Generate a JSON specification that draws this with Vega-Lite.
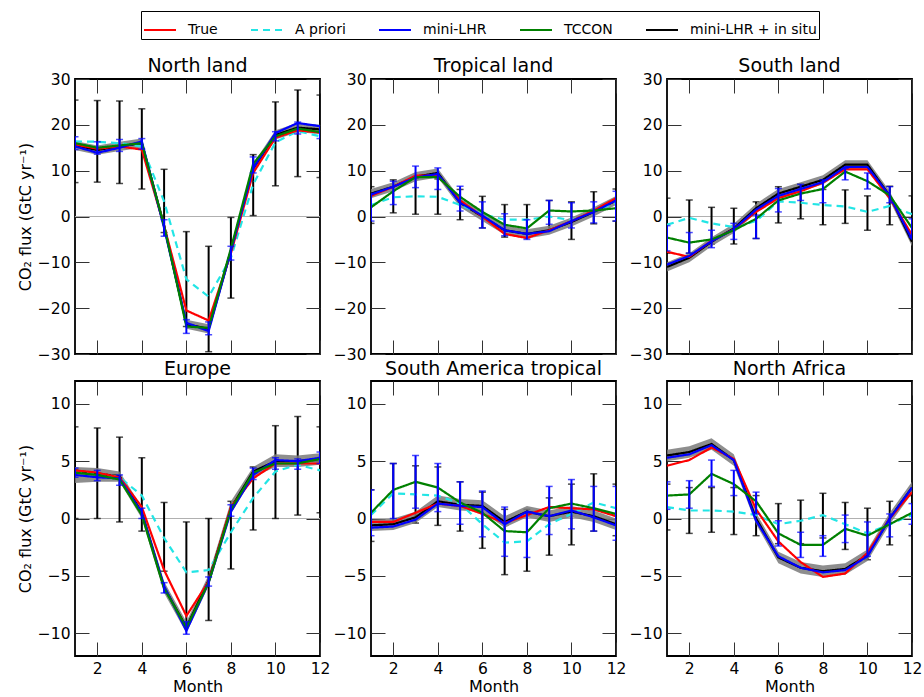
{
"$schema":"https://vega.github.io/schema/vega-lite/v6.json",
"background":"white",
"padding":{"left":16,"top":10,"right":5,"bottom":0},
"data":{"values":[
{"r":"NL","m":1,"T":15.7,"AP":16.4,"L":15.3,"TC":16.0,"LI":15.5,"blo":14.5,"bhi":16.5,"alo":7.4,"ahi":25.4,"tlo":14.6,"thi":17.4},
{"r":"NL","m":2,"T":14.8,"AP":16.3,"L":13.9,"TC":15.0,"LI":14.5,"blo":13.5,"bhi":15.5,"alo":7.5,"ahi":25.3,"tlo":13.6,"thi":16.3},
{"r":"NL","m":3,"T":15.3,"AP":16.0,"L":15.0,"TC":15.5,"LI":15.3,"blo":14.3,"bhi":16.3,"alo":7.2,"ahi":25.2,"tlo":14.2,"thi":16.8},
{"r":"NL","m":4,"T":14.6,"AP":15.3,"L":16.4,"TC":16.0,"LI":16.0,"blo":15.0,"bhi":17.0,"alo":6.0,"ahi":23.5,"tlo":14.7,"thi":17.0},
{"r":"NL","m":5,"T":-2.0,"AP":3.3,"L":-2.5,"TC":-2.0,"LI":-2.0,"blo":-3.0,"bhi":-1.0,"alo":-3.5,"ahi":10.3,"tlo":-4.3,"thi":-0.7},
{"r":"NL","m":6,"T":-20.5,"AP":-13.7,"L":-23.2,"TC":-24.0,"LI":-23.5,"blo":-24.5,"bhi":-22.5,"alo":-24.0,"ahi":-3.3,"tlo":-25.5,"thi":-22.5},
{"r":"NL","m":7,"T":-22.7,"AP":-17.5,"L":-25.0,"TC":-24.3,"LI":-24.5,"blo":-25.5,"bhi":-23.5,"alo":-29.5,"ahi":-6.5,"tlo":-25.8,"thi":-23.0},
{"r":"NL","m":8,"T":-8.0,"AP":-9.0,"L":-7.5,"TC":-7.0,"LI":-7.5,"blo":-8.5,"bhi":-6.5,"alo":-17.8,"ahi":-0.2,"tlo":-9.5,"thi":-6.5},
{"r":"NL","m":9,"T":9.5,"AP":7.0,"L":10.5,"TC":11.5,"LI":10.5,"blo":9.5,"bhi":11.5,"alo":0.2,"ahi":13.5,"tlo":9.5,"thi":13.0},
{"r":"NL","m":10,"T":17.2,"AP":16.2,"L":18.2,"TC":17.5,"LI":17.8,"blo":16.8,"bhi":18.8,"alo":6.7,"ahi":25.0,"tlo":16.5,"thi":18.5},
{"r":"NL","m":11,"T":18.8,"AP":18.6,"L":20.4,"TC":19.2,"LI":19.4,"blo":18.4,"bhi":20.4,"alo":8.7,"ahi":27.6,"tlo":18.0,"thi":20.6},
{"r":"NL","m":12,"T":18.3,"AP":17.5,"L":19.7,"TC":18.4,"LI":19.0,"blo":18.0,"bhi":20.0,"alo":8.5,"ahi":26.5,"tlo":17.0,"thi":19.8},
{"r":"TL","m":1,"T":4.5,"AP":2.5,"L":4.8,"TC":2.0,"LI":5.0,"blo":4.0,"bhi":6.0,"alo":-1.5,"ahi":6.5,"tlo":-1.0,"thi":5.0},
{"r":"TL","m":2,"T":6.5,"AP":4.2,"L":6.5,"TC":5.5,"LI":6.5,"blo":5.5,"bhi":7.5,"alo":0.8,"ahi":8.0,"tlo":2.6,"thi":7.7},
{"r":"TL","m":3,"T":8.9,"AP":4.4,"L":8.5,"TC":8.6,"LI":8.7,"blo":7.7,"bhi":9.7,"alo":0.5,"ahi":8.3,"tlo":6.3,"thi":11.0},
{"r":"TL","m":4,"T":9.0,"AP":4.3,"L":9.3,"TC":8.6,"LI":9.5,"blo":8.5,"bhi":10.5,"alo":0.5,"ahi":8.2,"tlo":5.9,"thi":10.6},
{"r":"TL","m":5,"T":3.5,"AP":2.5,"L":3.0,"TC":4.3,"LI":3.0,"blo":2.0,"bhi":4.0,"alo":-0.7,"ahi":5.9,"tlo":1.2,"thi":6.6},
{"r":"TL","m":6,"T":0.0,"AP":0.5,"L":0.2,"TC":1.0,"LI":0.0,"blo":-1.0,"bhi":1.0,"alo":-2.5,"ahi":4.4,"tlo":-2.5,"thi":3.2},
{"r":"TL","m":7,"T":-3.8,"AP":-0.7,"L":-3.0,"TC":-1.8,"LI":-3.0,"blo":-4.0,"bhi":-2.0,"alo":-4.5,"ahi":2.6,"tlo":-4.2,"thi":0.6},
{"r":"TL","m":8,"T":-4.7,"AP":-0.7,"L":-3.8,"TC":-2.6,"LI":-3.8,"blo":-4.8,"bhi":-2.8,"alo":-4.6,"ahi":2.6,"tlo":-5.0,"thi":-0.7},
{"r":"TL","m":9,"T":-3.0,"AP":0.0,"L":-3.2,"TC":1.3,"LI":-3.0,"blo":-4.0,"bhi":-2.0,"alo":-3.0,"ahi":3.5,"tlo":-1.7,"thi":3.5},
{"r":"TL","m":10,"T":-1.0,"AP":-0.8,"L":-1.0,"TC":1.1,"LI":-1.2,"blo":-2.2,"bhi":-0.2,"alo":-5.0,"ahi":3.2,"tlo":-2.5,"thi":3.0},
{"r":"TL","m":11,"T":1.3,"AP":1.2,"L":1.0,"TC":1.3,"LI":1.0,"blo":0.0,"bhi":2.0,"alo":-1.6,"ahi":5.4,"tlo":-1.4,"thi":3.2},
{"r":"TL","m":12,"T":4.0,"AP":3.0,"L":3.5,"TC":1.8,"LI":3.5,"blo":2.5,"bhi":4.5,"alo":-1.0,"ahi":6.0,"tlo":-1.0,"thi":5.5},
{"r":"SL","m":1,"T":-7.7,"AP":-1.8,"L":-10.5,"TC":-4.6,"LI":-11.0,"blo":-12.0,"bhi":-10.0,"alo":-8.0,"ahi":4.0,"tlo":-7.5,"thi":-2.0},
{"r":"SL","m":2,"T":-8.8,"AP":-0.3,"L":-8.6,"TC":-5.7,"LI":-9.0,"blo":-10.0,"bhi":-8.0,"alo":-8.0,"ahi":3.6,"tlo":-8.0,"thi":-3.5},
{"r":"SL","m":3,"T":-5.3,"AP":-1.5,"L":-5.4,"TC":-5.0,"LI":-5.5,"blo":-6.5,"bhi":-4.5,"alo":-6.0,"ahi":2.0,"tlo":-6.8,"thi":-3.0},
{"r":"SL","m":4,"T":-2.8,"AP":-2.3,"L":-2.8,"TC":-3.0,"LI":-2.6,"blo":-3.6,"bhi":-1.6,"alo":-6.0,"ahi":1.8,"tlo":-5.0,"thi":-1.5},
{"r":"SL","m":5,"T":1.0,"AP":-1.0,"L":1.5,"TC":-0.5,"LI":1.8,"blo":0.8,"bhi":2.8,"alo":-4.8,"ahi":3.2,"tlo":-4.8,"thi":0.3},
{"r":"SL","m":6,"T":4.0,"AP":3.3,"L":4.5,"TC":3.5,"LI":5.0,"blo":4.0,"bhi":6.0,"alo":-1.4,"ahi":6.5,"tlo":1.0,"thi":6.1},
{"r":"SL","m":7,"T":5.5,"AP":3.0,"L":6.0,"TC":5.0,"LI":6.5,"blo":5.5,"bhi":7.5,"alo":-0.5,"ahi":7.1,"tlo":3.5,"thi":7.0},
{"r":"SL","m":8,"T":7.4,"AP":2.5,"L":7.5,"TC":6.0,"LI":8.0,"blo":7.0,"bhi":9.0,"alo":-1.8,"ahi":5.9,"tlo":3.0,"thi":8.0},
{"r":"SL","m":9,"T":10.3,"AP":2.2,"L":10.8,"TC":9.8,"LI":11.3,"blo":10.3,"bhi":12.3,"alo":-1.5,"ahi":5.8,"tlo":8.0,"thi":10.5},
{"r":"SL","m":10,"T":10.3,"AP":1.0,"L":10.8,"TC":7.7,"LI":11.3,"blo":10.3,"bhi":12.3,"alo":-3.0,"ahi":4.5,"tlo":6.0,"thi":9.5},
{"r":"SL","m":11,"T":4.0,"AP":2.3,"L":4.5,"TC":4.6,"LI":4.5,"blo":3.5,"bhi":5.5,"alo":-1.8,"ahi":6.6,"tlo":3.0,"thi":6.5},
{"r":"SL","m":12,"T":-4.0,"AP":0.5,"L":-5.0,"TC":-2.5,"LI":-5.5,"blo":-6.5,"bhi":-4.5,"alo":-3.5,"ahi":4.5,"tlo":-4.5,"thi":-0.5},
{"r":"EU","m":1,"T":4.2,"AP":4.0,"L":3.8,"TC":4.0,"LI":4.2,"blo":3.1,"bhi":4.5,"alo":0.0,"ahi":8.0,"tlo":3.6,"thi":4.4},
{"r":"EU","m":2,"T":4.0,"AP":4.0,"L":3.6,"TC":3.8,"LI":3.9,"blo":3.2,"bhi":4.4,"alo":0.0,"ahi":7.9,"tlo":3.3,"thi":4.2},
{"r":"EU","m":3,"T":3.6,"AP":3.6,"L":3.5,"TC":3.4,"LI":3.7,"blo":3.2,"bhi":4.1,"alo":-0.3,"ahi":7.1,"tlo":2.9,"thi":3.8},
{"r":"EU","m":4,"T":1.0,"AP":2.0,"L":0.5,"TC":0.3,"LI":0.5,"blo":0.0,"bhi":1.0,"alo":-1.1,"ahi":5.3,"tlo":0.0,"thi":0.9},
{"r":"EU","m":5,"T":-4.5,"AP":-1.7,"L":-5.9,"TC":-6.1,"LI":-6.0,"blo":-6.5,"bhi":-5.5,"alo":-4.6,"ahi":1.4,"tlo":-6.5,"thi":-5.6},
{"r":"EU","m":6,"T":-8.5,"AP":-4.7,"L":-9.8,"TC":-9.5,"LI":-9.5,"blo":-10.0,"bhi":-9.0,"alo":-9.1,"ahi":-0.3,"tlo":-10.1,"thi":-9.0},
{"r":"EU","m":7,"T":-5.5,"AP":-4.5,"L":-5.6,"TC":-5.6,"LI":-5.4,"blo":-5.9,"bhi":-4.9,"alo":-8.9,"ahi":0.0,"tlo":-5.9,"thi":-5.1},
{"r":"EU","m":8,"T":1.0,"AP":-1.2,"L":0.6,"TC":0.8,"LI":0.9,"blo":0.4,"bhi":1.5,"alo":-4.4,"ahi":1.5,"tlo":0.2,"thi":1.2},
{"r":"EU","m":9,"T":3.5,"AP":1.8,"L":3.8,"TC":4.0,"LI":4.1,"blo":3.6,"bhi":4.5,"alo":-1.0,"ahi":4.5,"tlo":3.4,"thi":4.4},
{"r":"EU","m":10,"T":4.8,"AP":4.1,"L":5.1,"TC":4.8,"LI":5.0,"blo":4.5,"bhi":5.6,"alo":0.0,"ahi":8.1,"tlo":4.3,"thi":5.3},
{"r":"EU","m":11,"T":4.8,"AP":4.7,"L":5.0,"TC":4.8,"LI":5.0,"blo":4.5,"bhi":5.5,"alo":0.3,"ahi":8.9,"tlo":4.3,"thi":5.2},
{"r":"EU","m":12,"T":4.8,"AP":4.2,"L":5.3,"TC":5.2,"LI":5.2,"blo":4.7,"bhi":5.7,"alo":0.5,"ahi":8.0,"tlo":4.8,"thi":5.8},
{"r":"SA","m":1,"T":-0.3,"AP":0.3,"L":-0.8,"TC":0.5,"LI":-0.6,"blo":-1.1,"bhi":-0.1,"alo":-2.0,"ahi":2.5,"tlo":-1.5,"thi":2.5},
{"r":"SA","m":2,"T":-0.3,"AP":2.2,"L":-0.7,"TC":2.5,"LI":-0.5,"blo":-1.0,"bhi":0.0,"alo":-0.4,"ahi":4.8,"tlo":0.0,"thi":4.8},
{"r":"SA","m":3,"T":0.5,"AP":2.1,"L":-0.1,"TC":3.2,"LI":0.1,"blo":-0.4,"bhi":0.6,"alo":-0.4,"ahi":4.6,"tlo":0.9,"thi":5.5},
{"r":"SA","m":4,"T":1.3,"AP":2.0,"L":1.3,"TC":2.7,"LI":1.5,"blo":1.0,"bhi":2.0,"alo":-0.6,"ahi":4.5,"tlo":0.6,"thi":4.8},
{"r":"SA","m":5,"T":1.1,"AP":1.3,"L":1.1,"TC":1.4,"LI":1.2,"blo":0.7,"bhi":1.7,"alo":-1.1,"ahi":3.2,"tlo":-0.5,"thi":3.2},
{"r":"SA","m":6,"T":0.4,"AP":-0.5,"L":1.0,"TC":0.5,"LI":1.1,"blo":0.6,"bhi":1.6,"alo":-2.6,"ahi":2.3,"tlo":-1.6,"thi":2.4},
{"r":"SA","m":7,"T":-0.4,"AP":-2.1,"L":-0.5,"TC":-1.1,"LI":-0.3,"blo":-0.8,"bhi":0.2,"alo":-4.9,"ahi":0.8,"tlo":-3.3,"thi":1.0},
{"r":"SA","m":8,"T":0.3,"AP":-2.0,"L":0.6,"TC":-1.2,"LI":0.6,"blo":0.1,"bhi":1.1,"alo":-4.6,"ahi":0.8,"tlo":-3.4,"thi":0.5},
{"r":"SA","m":9,"T":1.0,"AP":-0.5,"L":0.2,"TC":0.9,"LI":0.2,"blo":-0.3,"bhi":0.7,"alo":-3.2,"ahi":1.8,"tlo":-1.4,"thi":2.8},
{"r":"SA","m":10,"T":0.9,"AP":0.4,"L":0.7,"TC":1.3,"LI":0.6,"blo":0.1,"bhi":1.1,"alo":-2.3,"ahi":3.0,"tlo":-0.9,"thi":3.4},
{"r":"SA","m":11,"T":0.8,"AP":1.4,"L":0.1,"TC":0.9,"LI":0.2,"blo":-0.3,"bhi":0.7,"alo":-1.1,"ahi":3.9,"tlo":-1.1,"thi":2.8},
{"r":"SA","m":12,"T":0.2,"AP":0.9,"L":-0.6,"TC":0.4,"LI":-0.5,"blo":-1.0,"bhi":0.0,"alo":-1.5,"ahi":3.0,"tlo":-1.9,"thi":2.8},
{"r":"NA","m":1,"T":4.6,"AP":1.0,"L":5.3,"TC":2.0,"LI":5.5,"blo":5.0,"bhi":6.0,"alo":-1.0,"ahi":3.0,"tlo":0.8,"thi":3.2},
{"r":"NA","m":2,"T":5.1,"AP":0.7,"L":5.6,"TC":2.1,"LI":5.8,"blo":5.3,"bhi":6.3,"alo":-1.3,"ahi":2.7,"tlo":0.9,"thi":3.3},
{"r":"NA","m":3,"T":6.2,"AP":0.7,"L":6.4,"TC":3.9,"LI":6.5,"blo":6.0,"bhi":7.0,"alo":-1.2,"ahi":2.7,"tlo":2.8,"thi":5.1},
{"r":"NA","m":4,"T":5.2,"AP":0.6,"L":5.1,"TC":3.0,"LI":5.1,"blo":4.6,"bhi":5.6,"alo":-1.4,"ahi":2.7,"tlo":2.0,"thi":4.2},
{"r":"NA","m":5,"T":0.8,"AP":0.3,"L":-0.2,"TC":1.5,"LI":0.0,"blo":-0.5,"bhi":0.5,"alo":-1.5,"ahi":2.0,"tlo":0.4,"thi":2.3},
{"r":"NA","m":6,"T":-2.0,"AP":-0.5,"L":-3.3,"TC":-1.3,"LI":-3.4,"blo":-3.9,"bhi":-2.9,"alo":-2.2,"ahi":1.3,"tlo":-2.4,"thi":-0.2},
{"r":"NA","m":7,"T":-3.8,"AP":-0.2,"L":-4.3,"TC":-2.3,"LI":-4.3,"blo":-4.8,"bhi":-3.8,"alo":-2.2,"ahi":1.6,"tlo":-3.4,"thi":-1.2},
{"r":"NA","m":8,"T":-5.1,"AP":0.3,"L":-4.7,"TC":-2.3,"LI":-4.6,"blo":-5.1,"bhi":-4.1,"alo":-1.7,"ahi":2.2,"tlo":-3.3,"thi":-1.5},
{"r":"NA","m":9,"T":-4.8,"AP":-0.5,"L":-4.5,"TC":-0.9,"LI":-4.4,"blo":-4.9,"bhi":-3.9,"alo":-2.7,"ahi":1.4,"tlo":-2.1,"thi":0.3},
{"r":"NA","m":10,"T":-3.0,"AP":-1.3,"L":-3.3,"TC":-1.5,"LI":-3.2,"blo":-3.7,"bhi":-2.7,"alo":-3.6,"ahi":0.9,"tlo":-3.3,"thi":-0.3},
{"r":"NA","m":11,"T":0.0,"AP":-0.5,"L":0.0,"TC":-0.5,"LI":0.0,"blo":-0.5,"bhi":0.5,"alo":-2.3,"ahi":1.5,"tlo":-1.6,"thi":0.4},
{"r":"NA","m":12,"T":2.3,"AP":0.3,"L":2.7,"TC":0.5,"LI":2.7,"blo":2.2,"bhi":3.2,"alo":-1.5,"ahi":2.0,"tlo":-0.5,"thi":1.3}
]},
"config":{
 "font":"DejaVu Sans",
 "view":{"stroke":"black","strokeWidth":1.8},
 "axis":{"labelFontSize":15.5,"titleFontSize":16,"titleFontWeight":"normal","labelColor":"black","titleColor":"black","tickColor":"#333333","tickWidth":1,"domain":false,"grid":false},
 "title":{"fontSize":19,"fontWeight":"normal","offset":-4,"color":"black"},
 "legend":{"orient":"none","legendX":66,"legendY":-68,"direction":"horizontal","columns":5,"symbolType":"stroke","symbolSize":1024,"symbolStrokeWidth":2,"labelFontSize":14,"labelColor":"black","labelOffset":11,"columnPadding":29,"padding":2,"strokeColor":"black","fillColor":"white","cornerRadius":0}
},
"columns":3,
"spacing":{"row":27,"column":51},
"bounds":"flush",
"concat":[
{"title":"North land","width":245,"height":275,
 "transform":[{"filter":"datum.r == 'NL'"}],
 "resolve":{"axis":{"x":"independent","y":"independent"}},
 "layer":[
  {"data":{"values":[{"z":0}]},"mark":{"type":"rule","color":"#b0b0b0","strokeWidth":1},
   "encoding":{"x":{"datum":1,"type":"quantitative","axis":{"orient":"top","values":[2,4,6,8,10,12],"labels":false,"tickSize":-14,"title":null}},"x2":{"datum":12},
    "y":{"datum":0,"type":"quantitative","axis":{"orient":"right","values":[-30,-20,-10,0,10,20,30],"labels":false,"tickSize":-14,"title":null}}}},
  {"mark":{"type":"rule","color":"black","strokeWidth":2,"clip":true},"encoding":{"x":{"field":"m","type":"quantitative","axis":null},"y":{"field":"alo","type":"quantitative","axis":null},"y2":{"field":"ahi"}}},
  {"mark":{"type":"tick","orient":"horizontal","color":"black","size":7,"thickness":1.5,"clip":true},"encoding":{"x":{"field":"m","type":"quantitative","axis":null},"y":{"field":"alo","type":"quantitative","axis":null}}},
  {"mark":{"type":"tick","orient":"horizontal","color":"black","size":7,"thickness":1.5,"clip":true},"encoding":{"x":{"field":"m","type":"quantitative","axis":null},"y":{"field":"ahi","type":"quantitative","axis":null}}},
  {"mark":{"type":"area","color":"#7a7a7a","opacity":0.85,"clip":true},
   "encoding":{"x":{"field":"m","type":"quantitative","scale":{"domain":[1,12],"nice":false,"zero":false},"axis":{"orient":"bottom","values":[2,4,6,8,10,12],"labels":false,"tickSize":-14},"title":null},
    "y":{"field":"blo","type":"quantitative","scale":{"domain":[-30,30],"nice":false,"zero":false},"axis":{"orient":"left","values":[-30,-20,-10,0,10,20,30],"tickSize":-14,"labelPadding":19,"labelFlush":false,"labelOverlap":false,"titlePadding":4},"title":"CO₂ flux (GtC yr⁻¹)"},
    "y2":{"field":"bhi"}}},
  {"transform":[{"fold":["LI","AP","T","L","TC"],"as":["s","v"]}],"mark":{"type":"line","strokeWidth":2.2,"clip":true},
   "encoding":{"x":{"field":"m","type":"quantitative","axis":null},"y":{"field":"v","type":"quantitative","axis":null},
    "color":{"field":"s","type":"nominal","scale":{"domain":["T","AP","L","TC","LI"],"range":["#ff0000","#22e5e5","#0000ff","#008000","#000000"]},"legend":{"title":null,"labelExpr":"datum.label == 'T' ? 'True' : datum.label == 'AP' ? 'A priori' : datum.label == 'L' ? 'mini-LHR' : datum.label == 'TC' ? 'TCCON' : 'mini-LHR + in situ'"}},
    "strokeDash":{"field":"s","type":"nominal","scale":{"domain":["T","AP","L","TC","LI"],"range":[[1,0],[7,5],[1,0],[1,0],[1,0]]},"legend":{"title":null,"labelExpr":"datum.label == 'T' ? 'True' : datum.label == 'AP' ? 'A priori' : datum.label == 'L' ? 'mini-LHR' : datum.label == 'TC' ? 'TCCON' : 'mini-LHR + in situ'"}}}},
  {"mark":{"type":"rule","color":"#0000ff","strokeWidth":2,"clip":true},"encoding":{"x":{"field":"m","type":"quantitative","axis":null},"y":{"field":"tlo","type":"quantitative","axis":null},"y2":{"field":"thi"}}},
  {"mark":{"type":"tick","orient":"horizontal","color":"#0000ff","size":7,"thickness":1.5,"clip":true},"encoding":{"x":{"field":"m","type":"quantitative","axis":null},"y":{"field":"tlo","type":"quantitative","axis":null}}},
  {"mark":{"type":"tick","orient":"horizontal","color":"#0000ff","size":7,"thickness":1.5,"clip":true},"encoding":{"x":{"field":"m","type":"quantitative","axis":null},"y":{"field":"thi","type":"quantitative","axis":null}}}
 ]},
{"title":"Tropical land","width":245,"height":275,
 "transform":[{"filter":"datum.r == 'TL'"}],
 "resolve":{"axis":{"x":"independent","y":"independent"}},
 "layer":[
  {"data":{"values":[{"z":0}]},"mark":{"type":"rule","color":"#b0b0b0","strokeWidth":1},
   "encoding":{"x":{"datum":1,"type":"quantitative","axis":{"orient":"top","values":[2,4,6,8,10,12],"labels":false,"tickSize":-14,"title":null}},"x2":{"datum":12},
    "y":{"datum":0,"type":"quantitative","axis":{"orient":"right","values":[-30,-20,-10,0,10,20,30],"labels":false,"tickSize":-14,"title":null}}}},
  {"mark":{"type":"rule","color":"black","strokeWidth":2,"clip":true},"encoding":{"x":{"field":"m","type":"quantitative","axis":null},"y":{"field":"alo","type":"quantitative","axis":null},"y2":{"field":"ahi"}}},
  {"mark":{"type":"tick","orient":"horizontal","color":"black","size":7,"thickness":1.5,"clip":true},"encoding":{"x":{"field":"m","type":"quantitative","axis":null},"y":{"field":"alo","type":"quantitative","axis":null}}},
  {"mark":{"type":"tick","orient":"horizontal","color":"black","size":7,"thickness":1.5,"clip":true},"encoding":{"x":{"field":"m","type":"quantitative","axis":null},"y":{"field":"ahi","type":"quantitative","axis":null}}},
  {"mark":{"type":"area","color":"#7a7a7a","opacity":0.85,"clip":true},
   "encoding":{"x":{"field":"m","type":"quantitative","scale":{"domain":[1,12],"nice":false,"zero":false},"axis":{"orient":"bottom","values":[2,4,6,8,10,12],"labels":false,"tickSize":-14},"title":null},
    "y":{"field":"blo","type":"quantitative","scale":{"domain":[-30,30],"nice":false,"zero":false},"axis":{"orient":"left","values":[-30,-20,-10,0,10,20,30],"tickSize":-14,"labelPadding":19,"labelFlush":false,"labelOverlap":false},"title":null},
    "y2":{"field":"bhi"}}},
  {"transform":[{"fold":["LI","AP","T","L","TC"],"as":["s","v"]}],"mark":{"type":"line","strokeWidth":2.2,"clip":true},
   "encoding":{"x":{"field":"m","type":"quantitative","axis":null},"y":{"field":"v","type":"quantitative","axis":null},
    "color":{"field":"s","type":"nominal","scale":{"domain":["T","AP","L","TC","LI"],"range":["#ff0000","#22e5e5","#0000ff","#008000","#000000"]},"legend":{"title":null,"labelExpr":"datum.label == 'T' ? 'True' : datum.label == 'AP' ? 'A priori' : datum.label == 'L' ? 'mini-LHR' : datum.label == 'TC' ? 'TCCON' : 'mini-LHR + in situ'"}},
    "strokeDash":{"field":"s","type":"nominal","scale":{"domain":["T","AP","L","TC","LI"],"range":[[1,0],[7,5],[1,0],[1,0],[1,0]]},"legend":{"title":null,"labelExpr":"datum.label == 'T' ? 'True' : datum.label == 'AP' ? 'A priori' : datum.label == 'L' ? 'mini-LHR' : datum.label == 'TC' ? 'TCCON' : 'mini-LHR + in situ'"}}}},
  {"mark":{"type":"rule","color":"#0000ff","strokeWidth":2,"clip":true},"encoding":{"x":{"field":"m","type":"quantitative","axis":null},"y":{"field":"tlo","type":"quantitative","axis":null},"y2":{"field":"thi"}}},
  {"mark":{"type":"tick","orient":"horizontal","color":"#0000ff","size":7,"thickness":1.5,"clip":true},"encoding":{"x":{"field":"m","type":"quantitative","axis":null},"y":{"field":"tlo","type":"quantitative","axis":null}}},
  {"mark":{"type":"tick","orient":"horizontal","color":"#0000ff","size":7,"thickness":1.5,"clip":true},"encoding":{"x":{"field":"m","type":"quantitative","axis":null},"y":{"field":"thi","type":"quantitative","axis":null}}}
 ]},
{"title":"South land","width":245,"height":275,
 "transform":[{"filter":"datum.r == 'SL'"}],
 "resolve":{"axis":{"x":"independent","y":"independent"}},
 "layer":[
  {"data":{"values":[{"z":0}]},"mark":{"type":"rule","color":"#b0b0b0","strokeWidth":1},
   "encoding":{"x":{"datum":1,"type":"quantitative","axis":{"orient":"top","values":[2,4,6,8,10,12],"labels":false,"tickSize":-14,"title":null}},"x2":{"datum":12},
    "y":{"datum":0,"type":"quantitative","axis":{"orient":"right","values":[-30,-20,-10,0,10,20,30],"labels":false,"tickSize":-14,"title":null}}}},
  {"mark":{"type":"rule","color":"black","strokeWidth":2,"clip":true},"encoding":{"x":{"field":"m","type":"quantitative","axis":null},"y":{"field":"alo","type":"quantitative","axis":null},"y2":{"field":"ahi"}}},
  {"mark":{"type":"tick","orient":"horizontal","color":"black","size":7,"thickness":1.5,"clip":true},"encoding":{"x":{"field":"m","type":"quantitative","axis":null},"y":{"field":"alo","type":"quantitative","axis":null}}},
  {"mark":{"type":"tick","orient":"horizontal","color":"black","size":7,"thickness":1.5,"clip":true},"encoding":{"x":{"field":"m","type":"quantitative","axis":null},"y":{"field":"ahi","type":"quantitative","axis":null}}},
  {"mark":{"type":"area","color":"#7a7a7a","opacity":0.85,"clip":true},
   "encoding":{"x":{"field":"m","type":"quantitative","scale":{"domain":[1,12],"nice":false,"zero":false},"axis":{"orient":"bottom","values":[2,4,6,8,10,12],"labels":false,"tickSize":-14},"title":null},
    "y":{"field":"blo","type":"quantitative","scale":{"domain":[-30,30],"nice":false,"zero":false},"axis":{"orient":"left","values":[-30,-20,-10,0,10,20,30],"tickSize":-14,"labelPadding":19,"labelFlush":false,"labelOverlap":false},"title":null},
    "y2":{"field":"bhi"}}},
  {"transform":[{"fold":["LI","AP","T","L","TC"],"as":["s","v"]}],"mark":{"type":"line","strokeWidth":2.2,"clip":true},
   "encoding":{"x":{"field":"m","type":"quantitative","axis":null},"y":{"field":"v","type":"quantitative","axis":null},
    "color":{"field":"s","type":"nominal","scale":{"domain":["T","AP","L","TC","LI"],"range":["#ff0000","#22e5e5","#0000ff","#008000","#000000"]},"legend":{"title":null,"labelExpr":"datum.label == 'T' ? 'True' : datum.label == 'AP' ? 'A priori' : datum.label == 'L' ? 'mini-LHR' : datum.label == 'TC' ? 'TCCON' : 'mini-LHR + in situ'"}},
    "strokeDash":{"field":"s","type":"nominal","scale":{"domain":["T","AP","L","TC","LI"],"range":[[1,0],[7,5],[1,0],[1,0],[1,0]]},"legend":{"title":null,"labelExpr":"datum.label == 'T' ? 'True' : datum.label == 'AP' ? 'A priori' : datum.label == 'L' ? 'mini-LHR' : datum.label == 'TC' ? 'TCCON' : 'mini-LHR + in situ'"}}}},
  {"mark":{"type":"rule","color":"#0000ff","strokeWidth":2,"clip":true},"encoding":{"x":{"field":"m","type":"quantitative","axis":null},"y":{"field":"tlo","type":"quantitative","axis":null},"y2":{"field":"thi"}}},
  {"mark":{"type":"tick","orient":"horizontal","color":"#0000ff","size":7,"thickness":1.5,"clip":true},"encoding":{"x":{"field":"m","type":"quantitative","axis":null},"y":{"field":"tlo","type":"quantitative","axis":null}}},
  {"mark":{"type":"tick","orient":"horizontal","color":"#0000ff","size":7,"thickness":1.5,"clip":true},"encoding":{"x":{"field":"m","type":"quantitative","axis":null},"y":{"field":"thi","type":"quantitative","axis":null}}}
 ]},
{"title":{"text":"Europe","offset":2},"width":245,"height":275,
 "transform":[{"filter":"datum.r == 'EU'"}],
 "resolve":{"axis":{"x":"independent","y":"independent"}},
 "layer":[
  {"data":{"values":[{"z":0}]},"mark":{"type":"rule","color":"#b0b0b0","strokeWidth":1},
   "encoding":{"x":{"datum":1,"type":"quantitative","axis":{"orient":"top","values":[2,4,6,8,10,12],"labels":false,"tickSize":-14,"title":null}},"x2":{"datum":12},
    "y":{"datum":0,"type":"quantitative","axis":{"orient":"right","values":[-10,-5,0,5,10],"labels":false,"tickSize":-14,"title":null}}}},
  {"mark":{"type":"rule","color":"black","strokeWidth":2,"clip":true},"encoding":{"x":{"field":"m","type":"quantitative","axis":null},"y":{"field":"alo","type":"quantitative","axis":null},"y2":{"field":"ahi"}}},
  {"mark":{"type":"tick","orient":"horizontal","color":"black","size":7,"thickness":1.5,"clip":true},"encoding":{"x":{"field":"m","type":"quantitative","axis":null},"y":{"field":"alo","type":"quantitative","axis":null}}},
  {"mark":{"type":"tick","orient":"horizontal","color":"black","size":7,"thickness":1.5,"clip":true},"encoding":{"x":{"field":"m","type":"quantitative","axis":null},"y":{"field":"ahi","type":"quantitative","axis":null}}},
  {"mark":{"type":"area","color":"#7a7a7a","opacity":0.85,"clip":true},
   "encoding":{"x":{"field":"m","type":"quantitative","scale":{"domain":[1,12],"nice":false,"zero":false},"axis":{"orient":"bottom","values":[2,4,6,8,10,12],"tickSize":-14,"labelPadding":19,"labelFlush":false,"labelOverlap":false,"titlePadding":2},"title":"Month"},
    "y":{"field":"blo","type":"quantitative","scale":{"domain":[-12,12],"nice":false,"zero":false},"axis":{"orient":"left","values":[-10,-5,0,5,10],"tickSize":-14,"labelPadding":19,"labelFlush":false,"labelOverlap":false,"titlePadding":4},"title":"CO₂ flux (GtC yr⁻¹)"},
    "y2":{"field":"bhi"}}},
  {"transform":[{"fold":["LI","AP","T","L","TC"],"as":["s","v"]}],"mark":{"type":"line","strokeWidth":2.2,"clip":true},
   "encoding":{"x":{"field":"m","type":"quantitative","axis":null},"y":{"field":"v","type":"quantitative","axis":null},
    "color":{"field":"s","type":"nominal","scale":{"domain":["T","AP","L","TC","LI"],"range":["#ff0000","#22e5e5","#0000ff","#008000","#000000"]},"legend":{"title":null,"labelExpr":"datum.label == 'T' ? 'True' : datum.label == 'AP' ? 'A priori' : datum.label == 'L' ? 'mini-LHR' : datum.label == 'TC' ? 'TCCON' : 'mini-LHR + in situ'"}},
    "strokeDash":{"field":"s","type":"nominal","scale":{"domain":["T","AP","L","TC","LI"],"range":[[1,0],[7,5],[1,0],[1,0],[1,0]]},"legend":{"title":null,"labelExpr":"datum.label == 'T' ? 'True' : datum.label == 'AP' ? 'A priori' : datum.label == 'L' ? 'mini-LHR' : datum.label == 'TC' ? 'TCCON' : 'mini-LHR + in situ'"}}}},
  {"mark":{"type":"rule","color":"#0000ff","strokeWidth":2,"clip":true},"encoding":{"x":{"field":"m","type":"quantitative","axis":null},"y":{"field":"tlo","type":"quantitative","axis":null},"y2":{"field":"thi"}}},
  {"mark":{"type":"tick","orient":"horizontal","color":"#0000ff","size":7,"thickness":1.5,"clip":true},"encoding":{"x":{"field":"m","type":"quantitative","axis":null},"y":{"field":"tlo","type":"quantitative","axis":null}}},
  {"mark":{"type":"tick","orient":"horizontal","color":"#0000ff","size":7,"thickness":1.5,"clip":true},"encoding":{"x":{"field":"m","type":"quantitative","axis":null},"y":{"field":"thi","type":"quantitative","axis":null}}}
 ]},
{"title":{"text":"South America tropical","offset":2},"width":245,"height":275,
 "transform":[{"filter":"datum.r == 'SA'"}],
 "resolve":{"axis":{"x":"independent","y":"independent"}},
 "layer":[
  {"data":{"values":[{"z":0}]},"mark":{"type":"rule","color":"#b0b0b0","strokeWidth":1},
   "encoding":{"x":{"datum":1,"type":"quantitative","axis":{"orient":"top","values":[2,4,6,8,10,12],"labels":false,"tickSize":-14,"title":null}},"x2":{"datum":12},
    "y":{"datum":0,"type":"quantitative","axis":{"orient":"right","values":[-10,-5,0,5,10],"labels":false,"tickSize":-14,"title":null}}}},
  {"mark":{"type":"rule","color":"black","strokeWidth":2,"clip":true},"encoding":{"x":{"field":"m","type":"quantitative","axis":null},"y":{"field":"alo","type":"quantitative","axis":null},"y2":{"field":"ahi"}}},
  {"mark":{"type":"tick","orient":"horizontal","color":"black","size":7,"thickness":1.5,"clip":true},"encoding":{"x":{"field":"m","type":"quantitative","axis":null},"y":{"field":"alo","type":"quantitative","axis":null}}},
  {"mark":{"type":"tick","orient":"horizontal","color":"black","size":7,"thickness":1.5,"clip":true},"encoding":{"x":{"field":"m","type":"quantitative","axis":null},"y":{"field":"ahi","type":"quantitative","axis":null}}},
  {"mark":{"type":"area","color":"#7a7a7a","opacity":0.85,"clip":true},
   "encoding":{"x":{"field":"m","type":"quantitative","scale":{"domain":[1,12],"nice":false,"zero":false},"axis":{"orient":"bottom","values":[2,4,6,8,10,12],"tickSize":-14,"labelPadding":19,"labelFlush":false,"labelOverlap":false,"titlePadding":2},"title":"Month"},
    "y":{"field":"blo","type":"quantitative","scale":{"domain":[-12,12],"nice":false,"zero":false},"axis":{"orient":"left","values":[-10,-5,0,5,10],"tickSize":-14,"labelPadding":19,"labelFlush":false,"labelOverlap":false},"title":null},
    "y2":{"field":"bhi"}}},
  {"transform":[{"fold":["LI","AP","T","L","TC"],"as":["s","v"]}],"mark":{"type":"line","strokeWidth":2.2,"clip":true},
   "encoding":{"x":{"field":"m","type":"quantitative","axis":null},"y":{"field":"v","type":"quantitative","axis":null},
    "color":{"field":"s","type":"nominal","scale":{"domain":["T","AP","L","TC","LI"],"range":["#ff0000","#22e5e5","#0000ff","#008000","#000000"]},"legend":{"title":null,"labelExpr":"datum.label == 'T' ? 'True' : datum.label == 'AP' ? 'A priori' : datum.label == 'L' ? 'mini-LHR' : datum.label == 'TC' ? 'TCCON' : 'mini-LHR + in situ'"}},
    "strokeDash":{"field":"s","type":"nominal","scale":{"domain":["T","AP","L","TC","LI"],"range":[[1,0],[7,5],[1,0],[1,0],[1,0]]},"legend":{"title":null,"labelExpr":"datum.label == 'T' ? 'True' : datum.label == 'AP' ? 'A priori' : datum.label == 'L' ? 'mini-LHR' : datum.label == 'TC' ? 'TCCON' : 'mini-LHR + in situ'"}}}},
  {"mark":{"type":"rule","color":"#0000ff","strokeWidth":2,"clip":true},"encoding":{"x":{"field":"m","type":"quantitative","axis":null},"y":{"field":"tlo","type":"quantitative","axis":null},"y2":{"field":"thi"}}},
  {"mark":{"type":"tick","orient":"horizontal","color":"#0000ff","size":7,"thickness":1.5,"clip":true},"encoding":{"x":{"field":"m","type":"quantitative","axis":null},"y":{"field":"tlo","type":"quantitative","axis":null}}},
  {"mark":{"type":"tick","orient":"horizontal","color":"#0000ff","size":7,"thickness":1.5,"clip":true},"encoding":{"x":{"field":"m","type":"quantitative","axis":null},"y":{"field":"thi","type":"quantitative","axis":null}}}
 ]},
{"title":{"text":"North Africa","offset":2},"width":245,"height":275,
 "transform":[{"filter":"datum.r == 'NA'"}],
 "resolve":{"axis":{"x":"independent","y":"independent"}},
 "layer":[
  {"data":{"values":[{"z":0}]},"mark":{"type":"rule","color":"#b0b0b0","strokeWidth":1},
   "encoding":{"x":{"datum":1,"type":"quantitative","axis":{"orient":"top","values":[2,4,6,8,10,12],"labels":false,"tickSize":-14,"title":null}},"x2":{"datum":12},
    "y":{"datum":0,"type":"quantitative","axis":{"orient":"right","values":[-10,-5,0,5,10],"labels":false,"tickSize":-14,"title":null}}}},
  {"mark":{"type":"rule","color":"black","strokeWidth":2,"clip":true},"encoding":{"x":{"field":"m","type":"quantitative","axis":null},"y":{"field":"alo","type":"quantitative","axis":null},"y2":{"field":"ahi"}}},
  {"mark":{"type":"tick","orient":"horizontal","color":"black","size":7,"thickness":1.5,"clip":true},"encoding":{"x":{"field":"m","type":"quantitative","axis":null},"y":{"field":"alo","type":"quantitative","axis":null}}},
  {"mark":{"type":"tick","orient":"horizontal","color":"black","size":7,"thickness":1.5,"clip":true},"encoding":{"x":{"field":"m","type":"quantitative","axis":null},"y":{"field":"ahi","type":"quantitative","axis":null}}},
  {"mark":{"type":"area","color":"#7a7a7a","opacity":0.85,"clip":true},
   "encoding":{"x":{"field":"m","type":"quantitative","scale":{"domain":[1,12],"nice":false,"zero":false},"axis":{"orient":"bottom","values":[2,4,6,8,10,12],"tickSize":-14,"labelPadding":19,"labelFlush":false,"labelOverlap":false,"titlePadding":2},"title":"Month"},
    "y":{"field":"blo","type":"quantitative","scale":{"domain":[-12,12],"nice":false,"zero":false},"axis":{"orient":"left","values":[-10,-5,0,5,10],"tickSize":-14,"labelPadding":19,"labelFlush":false,"labelOverlap":false},"title":null},
    "y2":{"field":"bhi"}}},
  {"transform":[{"fold":["LI","AP","T","L","TC"],"as":["s","v"]}],"mark":{"type":"line","strokeWidth":2.2,"clip":true},
   "encoding":{"x":{"field":"m","type":"quantitative","axis":null},"y":{"field":"v","type":"quantitative","axis":null},
    "color":{"field":"s","type":"nominal","scale":{"domain":["T","AP","L","TC","LI"],"range":["#ff0000","#22e5e5","#0000ff","#008000","#000000"]},"legend":{"title":null,"labelExpr":"datum.label == 'T' ? 'True' : datum.label == 'AP' ? 'A priori' : datum.label == 'L' ? 'mini-LHR' : datum.label == 'TC' ? 'TCCON' : 'mini-LHR + in situ'"}},
    "strokeDash":{"field":"s","type":"nominal","scale":{"domain":["T","AP","L","TC","LI"],"range":[[1,0],[7,5],[1,0],[1,0],[1,0]]},"legend":{"title":null,"labelExpr":"datum.label == 'T' ? 'True' : datum.label == 'AP' ? 'A priori' : datum.label == 'L' ? 'mini-LHR' : datum.label == 'TC' ? 'TCCON' : 'mini-LHR + in situ'"}}}},
  {"mark":{"type":"rule","color":"#0000ff","strokeWidth":2,"clip":true},"encoding":{"x":{"field":"m","type":"quantitative","axis":null},"y":{"field":"tlo","type":"quantitative","axis":null},"y2":{"field":"thi"}}},
  {"mark":{"type":"tick","orient":"horizontal","color":"#0000ff","size":7,"thickness":1.5,"clip":true},"encoding":{"x":{"field":"m","type":"quantitative","axis":null},"y":{"field":"tlo","type":"quantitative","axis":null}}},
  {"mark":{"type":"tick","orient":"horizontal","color":"#0000ff","size":7,"thickness":1.5,"clip":true},"encoding":{"x":{"field":"m","type":"quantitative","axis":null},"y":{"field":"thi","type":"quantitative","axis":null}}}
 ]}
]
}
